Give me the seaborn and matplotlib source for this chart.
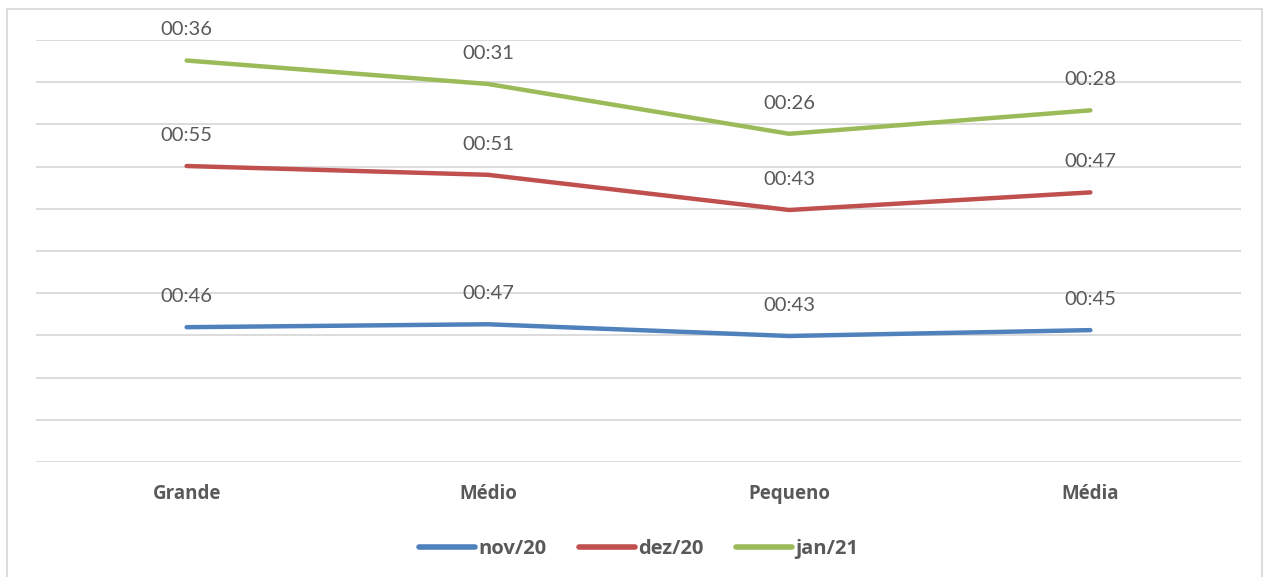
import matplotlib
matplotlib.use("Agg")
import matplotlib.pyplot as plt
import seaborn as sns
import pandas as pd
import numpy as np
from matplotlib.patches import Rectangle
from matplotlib import font_manager as fm

categories = ["Grande", "Médio", "Pequeno", "Média"]
series = ["nov/20", "dez/20", "jan/21"]
nov20 = [46, 47, 43, 45]   # seconds
dez20 = [55, 51, 43, 47]
jan21 = [36, 31, 26, 28]
colors = ["#4F81BD", "#C0504D", "#9BBB59"]

values = [nov20, dez20, jan21]
cum = np.cumsum(np.array(values), axis=0)  # stacked lines

rows = []
for s, vals, cvals in zip(series, values, cum):
    for i, (c, v, cv) in enumerate(zip(categories, vals, cvals)):
        rows.append({"cat": c, "x": i, "series": s, "value": v, "stacked": cv})
df = pd.DataFrame(rows)

sns.set_theme(style="white")
plt.rcParams["font.family"] = ["Lato", "DejaVu Sans"]

bold_prop = fm.FontProperties(family=["Open Sans", "DejaVu Sans"], weight="bold", size=13.5)
leg_prop = fm.FontProperties(family=["Open Sans", "DejaVu Sans"], weight="bold", size=14.5)

fig = plt.figure(figsize=(12.66, 5.77), dpi=100)
ax = fig.add_axes([36/1266, 1-462/577, (1241-36)/1266, (462-40)/577])

sns.lineplot(data=df, x="x", y="stacked", hue="series", palette=colors,
             linewidth=3.2, ax=ax, legend=True, sort=False)

text_color = "#595959"
for _, r in df.iterrows():
    ax.annotate(f"00:{int(r['value']):02d}", (r["x"], r["stacked"]),
                xytext=(0, 22), textcoords="offset points",
                ha="center", va="center", fontsize=14.5, color=text_color)

unit = 14.4
ax.set_ylim(0, 10*unit)
ax.set_xlim(-0.5, 3.5)
ax.set_yticks([i*unit for i in range(11)])
ax.set_yticklabels([])
ax.set_xticks(range(len(categories)))
ax.set_xticklabels(categories, color=text_color)
for t in ax.get_xticklabels():
    t.set_fontproperties(bold_prop)
ax.tick_params(axis="x", length=0, pad=16)
ax.tick_params(axis="y", length=0)
ax.grid(axis="y", color="#d9d9d9", linewidth=1.3)
ax.set_xlabel("")
ax.set_ylabel("")
for sp in ax.spines.values():
    sp.set_visible(False)

leg = ax.legend(loc="center", bbox_to_anchor=(0.5, (462-549)/(462-40)),
                ncol=3, frameon=False, prop=leg_prop, handlelength=2.8,
                handletextpad=0.15, columnspacing=1.6, bbox_transform=ax.transAxes)
for t in leg.get_texts():
    t.set_color(text_color)
for l in leg.get_lines():
    l.set_linewidth(4)

fig.patches.append(Rectangle((7/1266, -0.02), (1262-7)/1266, 1-9/577+0.02,
                             transform=fig.transFigure, fill=False,
                             edgecolor="#d9d9d9", linewidth=1.3))

fig.savefig("out.png", dpi=100)
